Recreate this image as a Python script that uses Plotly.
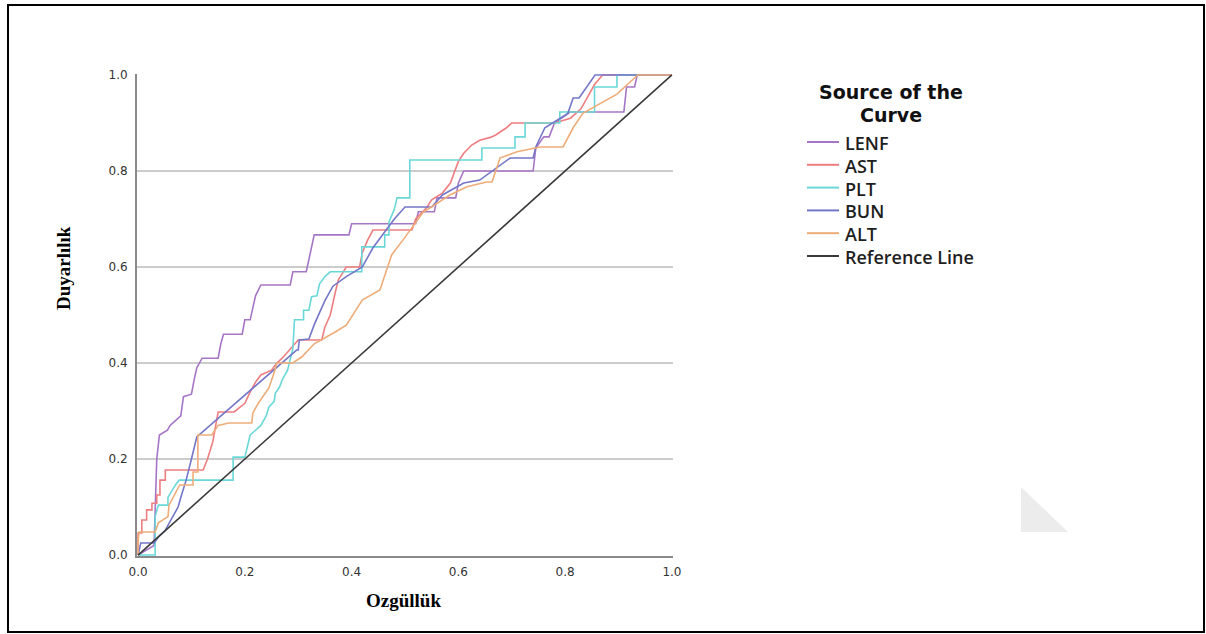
import plotly.graph_objects as go

# ---- data ----
series_names = ["LENF", "AST", "PLT", "BUN", "ALT", "Reference Line"]

lenf_x = [0, 0.03, 0.035, 0.04, 0.055, 0.06, 0.07, 0.08, 0.085, 0.1, 0.105, 0.11, 0.12, 0.15, 0.155, 0.16,
          0.195, 0.2, 0.21, 0.22, 0.23, 0.285, 0.29, 0.315, 0.33, 0.395, 0.4, 0.52, 0.525, 0.555, 0.56,
          0.595, 0.6, 0.61, 0.74, 0.745, 0.76, 0.77, 0.78, 0.81, 0.91, 0.915, 0.93, 0.935, 1.0]
lenf_y = [0, 0.02, 0.2, 0.25, 0.26, 0.27, 0.28, 0.29, 0.33, 0.335, 0.365, 0.39, 0.41, 0.41, 0.44, 0.46,
          0.46, 0.49, 0.49, 0.54, 0.5625, 0.5625, 0.59, 0.59, 0.667, 0.667, 0.69, 0.69, 0.715, 0.715, 0.744,
          0.744, 0.775, 0.8, 0.8, 0.848, 0.871, 0.871, 0.9, 0.923, 0.923, 0.975, 0.975, 1.0, 1.0]

ast_x = [0, 0, 0.007, 0.007, 0.016, 0.016, 0.026, 0.026, 0.035, 0.035, 0.041, 0.041, 0.051, 0.051, 0.122,
         0.13, 0.14, 0.15, 0.18, 0.2, 0.21, 0.22, 0.23, 0.25, 0.26, 0.27, 0.3, 0.344, 0.35, 0.36, 0.37,
         0.375, 0.39, 0.415, 0.42, 0.43, 0.44, 0.513, 0.52, 0.54, 0.55, 0.57, 0.585, 0.6, 0.61, 0.625,
         0.64, 0.66, 0.67, 0.69, 0.7, 0.78, 0.81, 0.83, 0.845, 0.855, 0.87, 1.0]
ast_y = [0, 0.046, 0.046, 0.073, 0.073, 0.094, 0.094, 0.108, 0.108, 0.125, 0.125, 0.156, 0.156, 0.177, 0.177,
         0.2, 0.236, 0.298, 0.298, 0.316, 0.34, 0.36, 0.375, 0.385, 0.4, 0.41, 0.448, 0.448, 0.475, 0.5, 0.55,
         0.573, 0.6, 0.6, 0.63, 0.656, 0.677, 0.677, 0.7, 0.723, 0.74, 0.754, 0.775, 0.82, 0.837, 0.854,
         0.864, 0.87, 0.875, 0.89, 0.9, 0.9, 0.91, 0.93, 0.96, 0.98, 1.0, 1.0]

plt_x = [0, 0.032, 0.032, 0.038, 0.056, 0.056, 0.07, 0.077, 0.178, 0.178, 0.2, 0.206, 0.21, 0.22, 0.23,
         0.24, 0.245, 0.255, 0.257, 0.265, 0.27, 0.28, 0.29, 0.293, 0.31, 0.31, 0.32, 0.325, 0.335, 0.34,
         0.35, 0.36, 0.419, 0.419, 0.462, 0.462, 0.47, 0.47, 0.48, 0.485, 0.509, 0.509, 0.644, 0.644,
         0.706, 0.706, 0.725, 0.725, 0.79, 0.79, 0.855, 0.855, 0.897, 0.897, 1.0]
plt_y = [0, 0, 0.08, 0.104, 0.104, 0.12, 0.146, 0.156, 0.156, 0.204, 0.204, 0.229, 0.25, 0.26, 0.27,
         0.29, 0.308, 0.32, 0.337, 0.35, 0.365, 0.385, 0.43, 0.49, 0.49, 0.51, 0.51, 0.538, 0.54, 0.565,
         0.58, 0.59, 0.59, 0.642, 0.642, 0.667, 0.667, 0.694, 0.72, 0.744, 0.744, 0.823, 0.823, 0.848,
         0.848, 0.871, 0.871, 0.9, 0.9, 0.923, 0.923, 0.975, 0.975, 1.0, 1.0]

bun_x = [0, 0.005, 0.03, 0.04, 0.05, 0.06, 0.075, 0.08, 0.09, 0.1, 0.11, 0.297, 0.3, 0.302, 0.32, 0.33,
         0.35, 0.365, 0.39, 0.42, 0.44, 0.48, 0.5, 0.55, 0.57, 0.61, 0.64, 0.697, 0.74, 0.745, 0.753,
         0.762, 0.805, 0.815, 0.826, 0.845, 0.856, 1.0]
bun_y = [0, 0.025, 0.025, 0.04, 0.05, 0.07, 0.1, 0.12, 0.156, 0.2, 0.246, 0.427, 0.427, 0.448, 0.45, 0.48,
         0.53, 0.56, 0.58, 0.6, 0.64, 0.7, 0.725, 0.725, 0.75, 0.775, 0.781, 0.827, 0.827, 0.85, 0.87,
         0.89, 0.92, 0.952, 0.952, 0.983, 1.0, 1.0]

alt_x = [0, 0, 0.002, 0.032, 0.038, 0.056, 0.058, 0.07, 0.078, 0.103, 0.103, 0.112, 0.112, 0.138, 0.15,
         0.17, 0.213, 0.215, 0.225, 0.24, 0.245, 0.255, 0.26, 0.29, 0.307, 0.33, 0.354, 0.37, 0.39, 0.41,
         0.42, 0.453, 0.475, 0.496, 0.534, 0.584, 0.616, 0.653, 0.663, 0.678, 0.71, 0.753, 0.796, 0.815,
         0.833, 0.897, 0.927, 0.936, 1.0]
alt_y = [0, 0.031, 0.048, 0.048, 0.067, 0.08, 0.104, 0.13, 0.146, 0.146, 0.173, 0.173, 0.25, 0.25, 0.27,
         0.275, 0.275, 0.296, 0.316, 0.34, 0.348, 0.38, 0.4, 0.4, 0.413, 0.44, 0.454, 0.465, 0.479, 0.515,
         0.531, 0.552, 0.625, 0.656, 0.714, 0.75, 0.767, 0.777, 0.777, 0.827, 0.84, 0.85, 0.85, 0.89,
         0.92, 0.96, 0.99, 1.0, 1.0]

ref_x = [0, 1]
ref_y = [0, 1]

tick_vals = [0.0, 0.2, 0.4, 0.6, 0.8, 1.0]
tick_text = ["0.0", "0.2", "0.4", "0.6", "0.8", "1.0"]

x_title = "Ozgüllük"
y_title = "Duyarlılık"
legend_title_lines = ["Source of the", "Curve"]

# ---- layout geometry (page pixels; body margin removed below) ----
FIG_W, FIG_H = 1206, 634
ML, MR, MT, MB = 137, 533, 74, 78
PW = FIG_W - ML - MR
PH = FIG_H - MT - MB


def px(page_x):
    return (page_x - ML) / PW


def py(page_y):
    return (FIG_H - MB - page_y) / PH


# ---- styles ----
colors = ["#a676c6", "#ee7d80", "#6ad8d8", "#7477c8", "#eeac78", "#3a3a3a"]
xs = [lenf_x, ast_x, plt_x, bun_x, alt_x, ref_x]
ys = [lenf_y, ast_y, plt_y, bun_y, alt_y, ref_y]

fig = go.Figure()
for name, x, y, c in zip(series_names, xs, ys, colors):
    fig.add_trace(go.Scatter(x=x, y=y, mode="lines", name=name, showlegend=False,
                             line=dict(color=c, width=1.6)))

tick_font = dict(family="DejaVu Sans", size=12, color="#333333")
title_font = dict(family="Liberation Serif", size=19, color="#000000", weight="bold")

shapes = [
    # outer frame
    dict(type="rect", xref="paper", yref="paper", x0=px(8), x1=px(1204), y0=py(632), y1=py(5),
         line=dict(color="#000000", width=2), fillcolor="rgba(0,0,0,0)", layer="above"),
    # faint corner triangle decoration
    dict(type="path", xref="paper", yref="paper",
         path=f"M {px(1021)} {py(487)} L {px(1021)} {py(532)} L {px(1068)} {py(532)} Z",
         fillcolor="#ececec", line=dict(width=0)),
]

annotations = [
    dict(text=x_title, xref="paper", yref="paper", x=px(403), y=py(600), showarrow=False,
         xanchor="center", yanchor="middle", font=title_font),
    dict(text=y_title, xref="paper", yref="paper", x=px(63), y=py(268), showarrow=False,
         textangle=-90, xanchor="center", yanchor="middle", font=title_font),
]

# legend (drawn by hand to match the original spacing)
leg_title_font = dict(family="DejaVu Sans", size=19, color="#111111", weight="bold")
leg_item_font = dict(family="Open Sans", size=18, color="#1e1e1e", weight=600)
for line_txt, yy in zip(legend_title_lines, [92, 115]):
    annotations.append(dict(text=line_txt, xref="paper", yref="paper", x=px(891), y=py(yy),
                            showarrow=False, xanchor="center", yanchor="middle", font=leg_title_font))
item_rows = [142, 164.8, 187.6, 210.4, 233.2, 256]
for name, c, yy in zip(series_names, colors, item_rows):
    shapes.append(dict(type="line", xref="paper", yref="paper", x0=px(807), x1=px(839),
                       y0=py(yy), y1=py(yy), line=dict(color=c, width=2)))
    annotations.append(dict(text=name, xref="paper", yref="paper", x=px(843), y=py(yy + 1),
                            showarrow=False, xanchor="left", yanchor="middle", font=leg_item_font))

fig.update_layout(
    width=FIG_W, height=FIG_H,
    margin=dict(l=ML, r=MR, t=MT, b=MB),
    paper_bgcolor="white", plot_bgcolor="white",
    xaxis=dict(range=[-0.002, 1.002], tickvals=tick_vals, ticktext=tick_text,
               showgrid=False, zeroline=False, showline=True, linecolor="#8a8a8a", linewidth=2,
               ticks="", tickfont=tick_font, ticklabelstandoff=4),
    yaxis=dict(range=[-0.002, 1.002], tickvals=tick_vals, ticktext=tick_text,
               showgrid=True, gridcolor="#cccccc", gridwidth=1.5, zeroline=False,
               showline=True, linecolor="#8a8a8a", linewidth=2,
               ticks="", tickfont=tick_font, ticklabelstandoff=5),
    showlegend=False,
    shapes=shapes,
    annotations=annotations,
)

fig.write_html("out.html", config={"displayModeBar": False},
               post_script="document.body.style.margin='0';document.body.style.overflow='hidden';")
